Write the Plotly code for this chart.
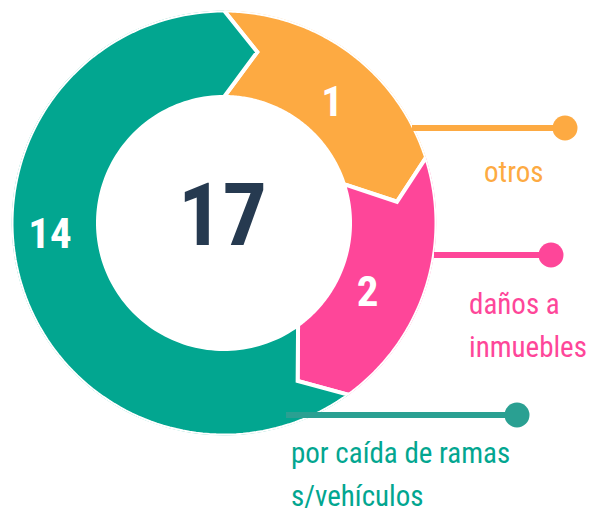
import numpy as np
import plotly.graph_objects as go

# ---- data (clockwise from 12 o'clock) ----
categories = ["otros", "daños a<br>inmuebles", "por caída de ramas<br>s/vehículos"]
counts = [1, 2, 14]
arc_share = [20, 20, 60]          # share of the ring each segment occupies in the infographic (%)
total = 17
colors = ["#FDAA42", "#FE4699", "#02A690"]
line_colors = ["#FDAA42", "#FE4699", "#2AA092"]

W, H = 591, 509
CX, CY, R = 224, 223, 212.5
R_IN = 0.593
TIP_R = 0.82
TIP_D = 11.0
FONT = "Roboto Condensed, DejaVu Sans Condensed, sans-serif"

fig = go.Figure()

# build chevron ring segments from the arc shares
bounds = np.concatenate([[0], np.cumsum(arc_share)]) / 100.0 * 360.0
for i in range(len(counts)):
    a0, a1 = bounds[i], bounds[i + 1]
    outer = np.linspace(a0, a1, 120)
    inner = outer[::-1]
    th = np.concatenate([outer, [a1 + TIP_D, a1], inner, [a0 + TIP_D, a0]])
    rr = np.concatenate([np.ones_like(outer), [TIP_R, R_IN], np.full_like(inner, R_IN), [TIP_R, 1.0]])
    fig.add_trace(go.Scatterpolar(
        r=rr, theta=th, mode="lines", fill="toself",
        fillcolor=colors[i], line=dict(color="white", width=4),
        hoverinfo="skip", showlegend=False))

# value labels inside the segments
label_theta = [42.6, 116.8, 265.4]
label_r = [0.751, 0.757, 0.821]
fig.add_trace(go.Scatterpolar(
    r=label_r, theta=label_theta, mode="text",
    text=[str(c) for c in counts],
    textfont=dict(family=FONT, size=43, color="white", weight="bold"),
    hoverinfo="skip", showlegend=False))

fig.update_layout(
    width=W, height=H,
    margin=dict(l=0, r=0, t=0, b=0),
    paper_bgcolor="white", plot_bgcolor="white",
    polar=dict(
        domain=dict(x=[(CX - R) / W, (CX + R) / W], y=[(H - CY - R) / H, (H - CY + R) / H]),
        bgcolor="rgba(0,0,0,0)",
        radialaxis=dict(range=[0, 1.0], visible=False),
        angularaxis=dict(rotation=90, direction="clockwise", visible=False),
    ),
)

def px(x):
    return x / W

def py(y):
    return 1 - y / H

# callouts: line + dot
callouts = [
    dict(x0=412, x1=565, y=128, c=line_colors[0]),
    dict(x0=434, x1=551, y=255, c=line_colors[1]),
    dict(x0=286, x1=517, y=415, c=line_colors[2]),
]
for c in callouts:
    fig.add_shape(type="line", xref="paper", yref="paper",
                  x0=px(c["x0"]), x1=px(c["x1"]), y0=py(c["y"]), y1=py(c["y"]),
                  line=dict(color=c["c"], width=6), layer="above")
    fig.add_shape(type="circle", xref="paper", yref="paper",
                  x0=px(c["x1"] - 12.5), x1=px(c["x1"] + 12.5),
                  y0=py(c["y"] + 12.5), y1=py(c["y"] - 12.5),
                  fillcolor=c["c"], line=dict(width=0), layer="above")

# category labels, one annotation per text line
label_pos = [
    dict(x=513, ys=[172], anchor="center"),
    dict(x=467, ys=[303.5, 346.5], anchor="left"),
    dict(x=289, ys=[452.5, 495.5], anchor="left"),
]
for cat, pos, col in zip(categories, label_pos, colors):
    for line, y in zip(cat.split("<br>"), pos["ys"]):
        fig.add_annotation(x=px(pos["x"]), y=py(y), xref="paper", yref="paper",
                           text=line, showarrow=False, xanchor=pos["anchor"], yanchor="middle",
                           font=dict(family=FONT, size=29, color=col))

# center total
fig.add_annotation(x=px(222), y=py(215), xref="paper", yref="paper",
                   text=str(total), showarrow=False, xanchor="center", yanchor="middle",
                   font=dict(family=FONT, size=88, color="#263A50", weight="bold"))

fig.write_html("out.html", config={"displayModeBar": False},
               post_script="document.body.style.margin='0';")
